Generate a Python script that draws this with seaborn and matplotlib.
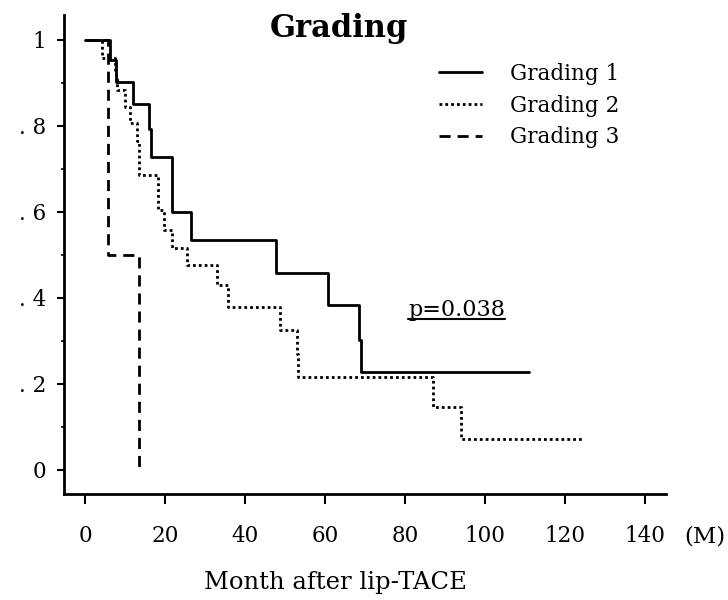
import numpy as np
import pandas as pd
import matplotlib
matplotlib.use("Agg")
import matplotlib.pyplot as plt
from matplotlib.lines import Line2D
import seaborn as sns

# Kaplan-Meier style survival steps
g1_time = [0, 6.15, 7.6, 11.8, 15.9, 16.4, 21.65, 26.4, 47.65, 60.65, 68.5, 68.9, 110.9]
g1_surv = [1, 0.953, 0.902, 0.851, 0.793, 0.728, 0.600, 0.535, 0.459, 0.384, 0.302, 0.228, 0.228]

g2_time = [0, 4.2, 7.3, 7.6, 8.0, 10.0, 11.2, 12.8, 13.4, 18.1, 19.65, 21.7, 25.3,
           33.0, 35.7, 48.65, 52.8, 53.2, 87.0, 93.9, 124.5]
g2_surv = [1, 0.957, 0.93, 0.91, 0.884, 0.845, 0.807, 0.764, 0.686, 0.605, 0.558, 0.517, 0.477,
           0.430, 0.380, 0.326, 0.27, 0.215, 0.146, 0.071, 0.071]

g3_time = [0, 5.6, 13.4]
g3_surv = [1, 0.5, 0.0]

groups = ["Grading 1", "Grading 2", "Grading 3"]
x_ticks = [0, 20, 40, 60, 80, 100, 120, 140]
y_ticks = [0, 0.2, 0.4, 0.6, 0.8, 1.0]
y_ticklabels = ["0", ". 2", ". 4", ". 6", ". 8", "1"]
p_text = "p=0.038"

df = pd.concat([
    pd.DataFrame({"month": g1_time, "surv": g1_surv, "group": groups[0]}),
    pd.DataFrame({"month": g2_time, "surv": g2_surv, "group": groups[1]}),
    pd.DataFrame({"month": g3_time, "surv": g3_surv, "group": groups[2]}),
])

sns.set_style("ticks")
plt.rcParams['font.family'] = ['DejaVu Serif']
plt.rcParams['text.color'] = 'black'
plt.rcParams['xtick.color'] = 'black'
plt.rcParams['ytick.color'] = 'black'

dash_map = {groups[0]: "", groups[1]: (1, 1.1), groups[2]: (4, 2.5)}

fig = plt.figure(figsize=(7.28, 6), dpi=100)
ax = fig.add_axes([0.0879, 0.1767, 0.8269, 0.7983])

sns.lineplot(data=df, x="month", y="surv", hue="group", style="group",
             palette=["black"] * 3, dashes=dash_map, estimator=None, sort=False,
             drawstyle="steps-post", linewidth=2, legend=False, ax=ax)

ax.set_xlim(-5.35, 145.2)
ax.set_ylim(-0.056, 1.058)
ax.set_xticks(x_ticks)
ax.set_xticklabels([str(v) for v in x_ticks])
ax.set_yticks(y_ticks)
ax.set_yticklabels(y_ticklabels)
ax.set_yticks([0.1, 0.3, 0.5, 0.7, 0.9], minor=True)
ax.set_xlabel("")
ax.set_ylabel("")

sns.despine(ax=ax)
for s in ["left", "bottom"]:
    ax.spines[s].set_linewidth(2)
    ax.spines[s].set_color("black")

ax.tick_params(axis="x", direction="out", length=7, width=1.5, pad=15, labelsize=15.5)
ax.tick_params(axis="y", which="major", direction="out", length=5, width=1.5, pad=8, labelsize=15.5)
ax.tick_params(axis="y", which="minor", direction="out", length=2.5, width=1.2)

handles = [Line2D([], [], color="black", lw=2, linestyle="-"),
           Line2D([], [], color="black", lw=2, linestyle=(0, (1, 1.1))),
           Line2D([], [], color="black", lw=2, linestyle=(0, (4, 2.5)))]
fig.legend(handles, groups, loc="upper left", bbox_to_anchor=(0.603, 0.895),
           frameon=False, fontsize=15.5, handlelength=2.0, handletextpad=1.3,
           labelspacing=0.45, borderpad=0, borderaxespad=0)

fig.text(339 / 728, 1 - 37 / 600, "Grading", ha="center", va="baseline",
         fontsize=22, fontweight="bold")
pt = fig.text(408 / 728, 1 - 316 / 600, p_text, ha="left", va="baseline", fontsize=16)
fig.text(684 / 728, 1 - 536 / 600, "(M)", ha="left", va="center", fontsize=16.5)
fig.text(336 / 728, 1 - 582 / 600, "Month after lip-TACE", ha="center", va="center",
         fontsize=17.5)

# underline the p-value
fig.canvas.draw()
bb = pt.get_window_extent().transformed(fig.transFigure.inverted())
uy = 1 - 319 / 600
fig.add_artist(Line2D([bb.x0, bb.x1], [uy, uy], color="black", lw=1.5,
                      transform=fig.transFigure))

fig.savefig("out.png", dpi=100, facecolor="white")
